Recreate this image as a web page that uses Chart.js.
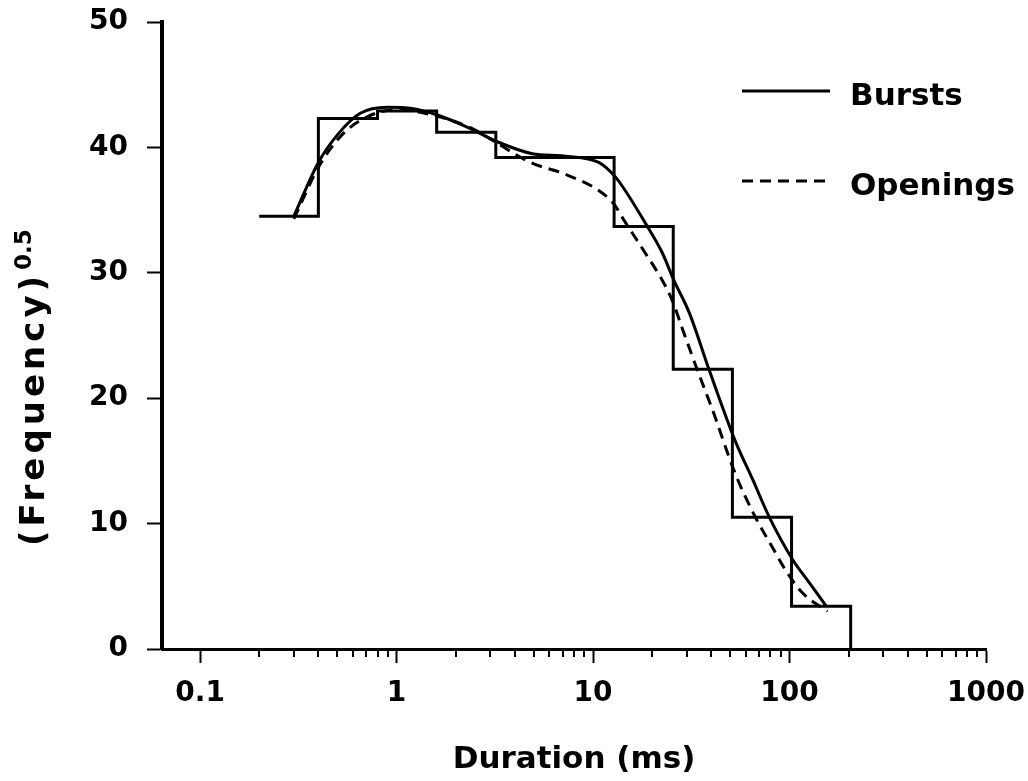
<!DOCTYPE html>
<html>
<head>
<meta charset="utf-8">
<title>Duration histogram</title>
<script src="https://cdn.jsdelivr.net/npm/chart.js@4.4.0/dist/chart.umd.min.js"></script>
<style>
  html, body { margin: 0; padding: 0; background: #fff; }
  #wrap { width: 1028px; height: 781px; }
</style>
</head>
<body>
<div id="wrap"><canvas id="durChart"></canvas></div>
<script>
// histogram bins (ms), edges double each time
const binEdges = [0.2, 0.4, 0.8, 1.6, 3.2, 6.4, 12.8, 25.6, 51.2, 102.4, 204.8];
const binHeights = [34.5, 42.3, 42.9, 41.2, 39.2, 39.2, 33.7, 22.3, 10.5, 3.4];

// fitted curves
const burstX = [0.3, 0.4, 0.5, 0.65, 0.9, 1.2, 1.6, 2.3, 3.2, 4.9, 7.2, 10.7, 12.9, 14.1, 18.4, 22.5, 25.8, 30.9, 39.1, 52.9, 65, 79, 104, 126, 154];
const burstY = [34.5, 38.8, 41.0, 42.7, 43.2, 43.1, 42.6, 41.6, 40.5, 39.5, 39.3, 38.8, 37.7, 36.9, 34.0, 31.6, 29.4, 26.8, 22.2, 16.6, 13.5, 10.5, 7.1, 5.3, 3.4];

const openX = [0.3, 0.4, 0.52, 0.7, 1.0, 1.6, 2.5, 3.2, 4.8, 7.1, 10.6, 12.9, 14.1, 18.4, 22.5, 25.3, 28.4, 31.9, 36.0, 40.5, 52.9, 67.1, 81.9, 95.4, 116, 156];
const openY = [34.3, 38.4, 40.9, 42.4, 43.0, 42.5, 41.4, 40.4, 38.8, 37.9, 36.6, 35.4, 34.4, 31.6, 29.4, 27.8, 25.6, 23.4, 21.2, 19.1, 14.0, 10.5, 8.1, 6.3, 4.5, 3.0];

const xMajorTicks = [0.1, 1, 10, 100, 1000];
const yTicks = [0, 10, 20, 30, 40, 50];
const xMinorTicks = [];
xMajorTicks.slice(0, -1).forEach(function (m) {
  for (let k = 2; k <= 9; k++) xMinorTicks.push(m * k);
});

const FONT = 'DejaVu Sans';

// histogram as a stepped line, dropping to 0 after the last bin
const histPoints = binHeights.map((h, i) => ({ x: binEdges[i], y: h }));
histPoints.push({ x: binEdges[binEdges.length - 1], y: 0 });

const burstPoints = burstX.map((x, i) => ({ x: x, y: burstY[i] }));
const openPoints = openX.map((x, i) => ({ x: x, y: openY[i] }));

const decorPlugin = {
  id: 'decor',
  afterDraw(chart) {
    const ctx = chart.ctx;
    const xs = chart.scales.x;
    const area = chart.chartArea;
    ctx.save();

    // minor ticks on the log axis
    ctx.strokeStyle = '#000';
    ctx.lineWidth = 2;
    xMinorTicks.forEach(function (v) {
      const px = Math.round(xs.getPixelForValue(v));
      ctx.beginPath();
      ctx.moveTo(px, area.bottom);
      ctx.lineTo(px, area.bottom + 8);
      ctx.stroke();
    });

    // legend, top right
    const items = [
      { ds: chart.data.datasets[1], y: 91 },
      { ds: chart.data.datasets[2], y: 181 }
    ];
    ctx.font = 'bold 31px ' + FONT;
    ctx.textAlign = 'left';
    ctx.textBaseline = 'alphabetic';
    items.forEach(function (it) {
      ctx.lineWidth = 3;
      ctx.setLineDash(it.ds.borderDash || []);
      ctx.beginPath();
      ctx.moveTo(742, it.y);
      ctx.lineTo(830, it.y);
      ctx.stroke();
      ctx.setLineDash([]);
      ctx.fillStyle = '#000';
      ctx.fillText(it.ds.label, 850, it.y + 14);
    });

    // y title with superscript, reads bottom to top
    const main = '(Frequency)';
    const sup = '0.5';
    ctx.font = 'bold 34px ' + FONT;
    ctx.letterSpacing = '4px';
    const wMain = ctx.measureText(main).width;
    ctx.translate(44, area.bottom - 103);
    ctx.rotate(-Math.PI / 2);
    ctx.fillText(main, 0, 0);
    ctx.letterSpacing = '0px';
    ctx.font = 'bold 23px ' + FONT;
    ctx.fillText(sup, wMain + 2, -13);

    ctx.restore();
  }
};

new Chart(document.getElementById('durChart'), {
  type: 'line',
  data: {
    datasets: [
      {
        label: 'Histogram',
        data: histPoints,
        stepped: 'before',
        borderColor: '#000',
        borderWidth: 3,
        pointRadius: 0,
        fill: false
      },
      {
        label: 'Bursts',
        data: burstPoints,
        borderColor: '#000',
        borderWidth: 3,
        pointRadius: 0,
        cubicInterpolationMode: 'monotone',
        fill: false
      },
      {
        label: 'Openings',
        data: openPoints,
        borderColor: '#000',
        borderWidth: 3,
        borderDash: [11, 7],
        pointRadius: 0,
        cubicInterpolationMode: 'monotone',
        fill: false
      }
    ]
  },
  options: {
    responsive: true,
    maintainAspectRatio: false,
    animation: false,
    layout: { padding: { top: 22, right: 42, left: 0, bottom: 0 } },
    plugins: {
      legend: { display: false },
      tooltip: { enabled: false }
    },
    scales: {
      x: {
        type: 'logarithmic',
        min: 0.064,
        max: 1000,
        afterBuildTicks: function (axis) {
          axis.ticks = xMajorTicks.map(v => ({ value: v }));
        },
        afterFit: function (scale) {
          scale.height = 132;
          scale.paddingLeft = 0;
          scale.paddingRight = 0;
        },
        ticks: {
          autoSkip: false,
          maxRotation: 0,
          color: '#000',
          padding: 14,
          font: { family: FONT, size: 28, weight: 'bold' },
          callback: function (v) { return String(v); }
        },
        grid: {
          display: true,
          drawOnChartArea: false,
          drawTicks: true,
          tickLength: 14,
          tickWidth: 2,
          tickColor: '#000'
        },
        border: { display: true, color: '#000', width: 3 },
        title: {
          display: true,
          text: 'Duration (ms)',
          color: '#000',
          font: { family: FONT, size: 31, weight: 'bold' },
          padding: { top: 0, bottom: 2 }
        }
      },
      y: {
        type: 'linear',
        min: 0,
        max: 50,
        afterBuildTicks: function (axis) {
          axis.ticks = yTicks.map(v => ({ value: v }));
        },
        afterFit: function (scale) {
          scale.width = 162;
          scale.paddingTop = 0;
          scale.paddingBottom = 0;
        },
        ticks: {
          color: '#000',
          padding: 19,
          font: { family: FONT, size: 28, weight: 'bold' }
        },
        grid: {
          display: true,
          drawOnChartArea: false,
          drawTicks: true,
          tickLength: 15,
          tickWidth: 2,
          tickColor: '#000'
        },
        border: { display: true, color: '#000', width: 4 }
      }
    }
  },
  plugins: [decorPlugin]
});
</script>
</body>
</html>
